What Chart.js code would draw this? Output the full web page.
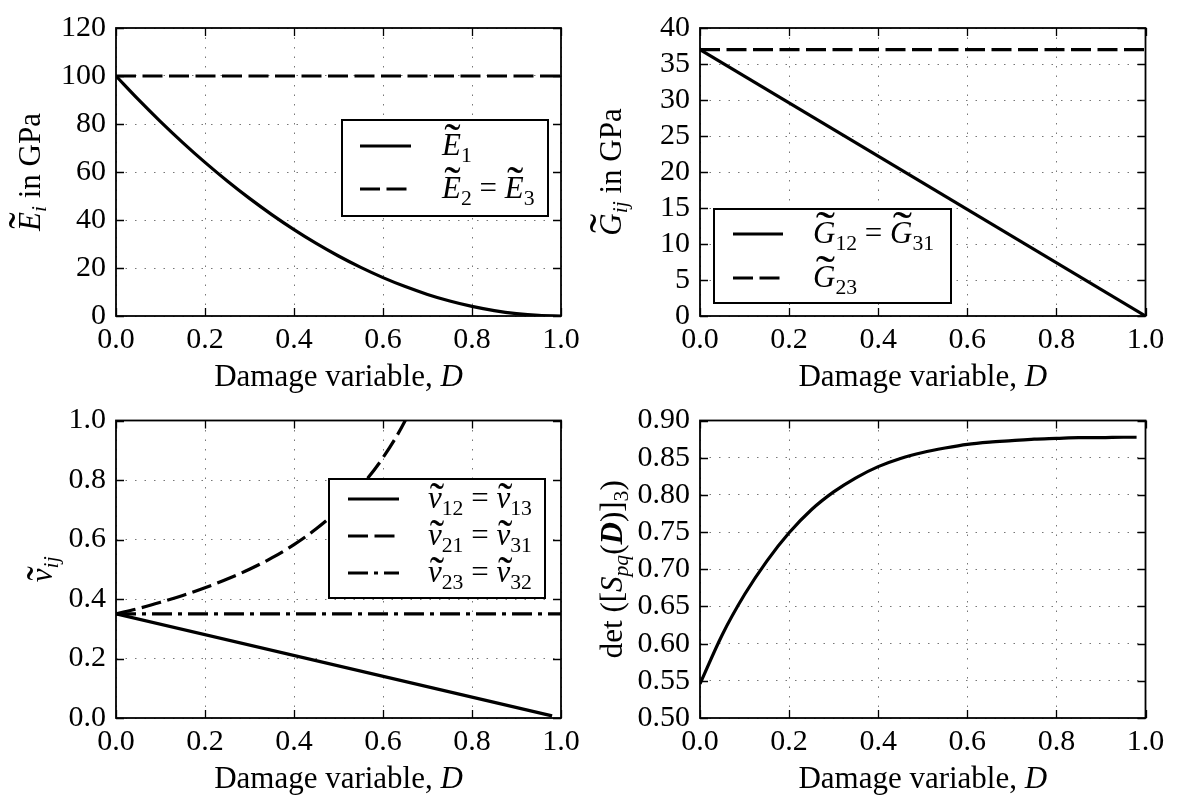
<!DOCTYPE html>
<html>
<head>
<meta charset="utf-8">
<title>Damage-dependent elastic constants</title>
<script src="https://cdn.jsdelivr.net/npm/chart.js@4.4.1/dist/chart.umd.min.js"></script>
<style>
  html, body { margin: 0; padding: 0; background: #fff; }
  #wrap { position: relative; width: 1179px; height: 799px; overflow: hidden; background: #fff; }
  #wrap canvas { position: absolute; left: 0; top: 0; }
</style>
</head>
<body>
<div id="wrap">
  <canvas id="cE" width="1179" height="799"></canvas>
  <canvas id="cG" width="1179" height="799"></canvas>
  <canvas id="cNu" width="1179" height="799"></canvas>
  <canvas id="cDet" width="1179" height="799"></canvas>
</div>
<script>
// ---- damage variable samples ----
const dEnds = [0, 1];
const dTop = [0, 0.05, 0.1, 0.15, 0.2, 0.25, 0.3, 0.35, 0.4, 0.45, 0.5,
              0.55, 0.6, 0.65, 0.7, 0.75, 0.8, 0.85, 0.9, 0.95, 1.0];

// Young's moduli in GPa
const modulusE1 = [100, 90.25, 81, 72.25, 64, 56.25, 49, 42.25, 36, 30.25, 25,
                   20.25, 16, 12.25, 9, 6.25, 4, 2.25, 1, 0.25, 0];
const modulusE23 = [100, 100];

// shear moduli in GPa
const shearG12 = [37, 0];
const shearG23 = [37, 37];

// Poisson's ratios
const dNu12 = [0, 0.98];
const poissonNu12 = [0.35, 0.007];
const dNu21 = [0, 0.05, 0.1, 0.15, 0.2, 0.25, 0.3, 0.35, 0.4, 0.45, 0.5, 0.55, 0.6, 0.65, 0.7];
const poissonNu21 = [0.35, 0.368, 0.389, 0.412, 0.438, 0.467, 0.5, 0.538, 0.583, 0.636, 0.7,
                     0.778, 0.875, 1.0, 1.167];
const poissonNu23 = [0.35, 0.35];

// determinant of the compliance matrix
const dDet = [0, 0.05, 0.1, 0.15, 0.2, 0.25, 0.3, 0.35, 0.4, 0.45, 0.5,
              0.55, 0.6, 0.65, 0.7, 0.75, 0.8, 0.85, 0.9, 0.95, 0.98];
const detS = [0.546, 0.612, 0.666, 0.711, 0.749, 0.780, 0.804, 0.823, 0.838, 0.849, 0.857,
              0.863, 0.868, 0.871, 0.873, 0.875, 0.876, 0.877, 0.877, 0.8775, 0.8775];

// ---- tick values and labels ----
const xTickValues = [0, 0.2, 0.4, 0.6, 0.8, 1.0];
const xTickLabels = ['0.0', '0.2', '0.4', '0.6', '0.8', '1.0'];
const eTickValues = [0, 20, 40, 60, 80, 100, 120];
const eTickLabels = ['0', '20', '40', '60', '80', '100', '120'];
const gTickValues = [0, 5, 10, 15, 20, 25, 30, 35, 40];
const gTickLabels = ['0', '5', '10', '15', '20', '25', '30', '35', '40'];
const nuTickValues = [0, 0.2, 0.4, 0.6, 0.8, 1.0];
const nuTickLabels = ['0.0', '0.2', '0.4', '0.6', '0.8', '1.0'];
const detTickValues = [0.5, 0.55, 0.6, 0.65, 0.7, 0.75, 0.8, 0.85, 0.9];
const detTickLabels = ['0.50', '0.55', '0.60', '0.65', '0.70', '0.75', '0.80', '0.85', '0.90'];

// ---- rich text pieces: it = italic, bf = bold, sub = subscript, tl = wide tilde ----
const xTitle = [{ t: 'Damage variable, ' }, { t: 'D', it: 1 }];
const yTitleE = [{ t: 'E', it: 1, tl: 1 }, { t: 'i', it: 1, sub: 1 }, { t: ' in GPa' }];
const yTitleG = [{ t: 'G', it: 1, tl: 1 }, { t: 'ij', it: 1, sub: 1 }, { t: ' in GPa' }];
const yTitleNu = [{ t: '\u03BD', it: 1, tl: 1 }, { t: 'ij', it: 1, sub: 1 }];
const yTitleDet = [{ t: 'det ' }, { t: '(' }, { t: '[' }, { t: 'S', it: 1 }, { t: 'pq', it: 1, sub: 1 },
                   { t: '(' }, { t: 'D', it: 1, bf: 1 }, { t: ')' }, { t: ']' }, { t: '3', sub: 1 }, { t: ')' }];

const legendE = [
  [{ t: 'E', it: 1, tl: 1 }, { t: '1', sub: 1 }],
  [{ t: 'E', it: 1, tl: 1 }, { t: '2', sub: 1 }, { t: ' = ' }, { t: 'E', it: 1, tl: 1 }, { t: '3', sub: 1 }]
];
const legendG = [
  [{ t: 'G', it: 1, tl: 1 }, { t: '12', sub: 1 }, { t: ' = ' }, { t: 'G', it: 1, tl: 1 }, { t: '31', sub: 1 }],
  [{ t: 'G', it: 1, tl: 1 }, { t: '23', sub: 1 }]
];
const legendNu = [
  [{ t: '\u03BD', it: 1, tl: 1 }, { t: '12', sub: 1 }, { t: ' = ' }, { t: '\u03BD', it: 1, tl: 1 }, { t: '13', sub: 1 }],
  [{ t: '\u03BD', it: 1, tl: 1 }, { t: '21', sub: 1 }, { t: ' = ' }, { t: '\u03BD', it: 1, tl: 1 }, { t: '31', sub: 1 }],
  [{ t: '\u03BD', it: 1, tl: 1 }, { t: '23', sub: 1 }, { t: ' = ' }, { t: '\u03BD', it: 1, tl: 1 }, { t: '32', sub: 1 }]
];

// ---- styling ----
const FAMILY = '"Liberation Serif", "Times New Roman", serif';
const TEXT_SIZE = 31;
const TICK_SIZE = 30;
const LINE_W = 3.2;
const DASHED = [20, 6.5];
const DASHDOT = [20, 6, 4, 6];
const PAGE_W = 1179, PAGE_H = 799;
const Y_AXIS_W = 70, X_AXIS_H = 40;

function fontOf(seg, size) {
  return (seg.it ? 'italic ' : '') + (seg.bf ? 'bold ' : '') + size + 'px ' + FAMILY;
}

function richWidth(ctx, segs, size) {
  let w = 0;
  for (const s of segs) {
    ctx.font = fontOf(s, s.sub ? size * 0.7 : size);
    w += ctx.measureText(s.t).width;
  }
  return w;
}

function drawTilde(ctx, seg, x, base, size, w) {
  const m = ctx.measureText(seg.t);
  const top = base - m.actualBoundingBoxAscent;
  const h = size * 0.19, gap = size * 0.1;
  const x0 = x + w * 0.12, x1 = x + Math.max(w * 1.04, size * 0.55);
  ctx.save();
  ctx.font = size + 'px ' + FAMILY;
  const a = ctx.measureText('\u02DC');
  const l = -a.actualBoundingBoxLeft, r = a.actualBoundingBoxRight;
  const t = -a.actualBoundingBoxAscent, b = a.actualBoundingBoxDescent;
  if (r - l > 0 && b - t > 0) {
    const sx = (x1 - x0) / (r - l), sy = h / (b - t);
    ctx.translate(x0 - l * sx, top - gap - h - t * sy);
    ctx.scale(sx, sy);
    ctx.fillText('\u02DC', 0, 0);
  }
  ctx.restore();
}

function drawRich(ctx, segs, x, base, size) {
  let cx = x;
  for (const s of segs) {
    const sz = s.sub ? size * 0.7 : size;
    const dy = s.sub ? size * 0.2 : 0;
    ctx.font = fontOf(s, sz);
    const w = ctx.measureText(s.t).width;
    ctx.fillText(s.t, cx, base + dy);
    if (s.tl) drawTilde(ctx, s, cx, base + dy, sz, w);
    cx += w;
  }
}

// frame, inward ticks, axis titles and legend drawn on top of the data
const decor = {
  id: 'decor',
  afterDatasetsDraw(chart, args, o) {
    const { ctx, chartArea: a } = chart;
    const x = chart.scales.x, y = chart.scales.y;
    ctx.save();
    ctx.setLineDash([]);
    ctx.strokeStyle = '#000';
    ctx.fillStyle = '#000';

    // ticks pointing into the plot on all four sides
    const TL = 8;
    ctx.lineWidth = 1.3;
    ctx.beginPath();
    for (const t of x.ticks) {
      const px = Math.round(x.getPixelForValue(t.value)) + 0.5;
      ctx.moveTo(px, a.bottom); ctx.lineTo(px, a.bottom - TL);
      ctx.moveTo(px, a.top); ctx.lineTo(px, a.top + TL);
    }
    for (const t of y.ticks) {
      const py = Math.round(y.getPixelForValue(t.value)) + 0.5;
      ctx.moveTo(a.left, py); ctx.lineTo(a.left + TL, py);
      ctx.moveTo(a.right, py); ctx.lineTo(a.right - TL, py);
    }
    ctx.stroke();

    // axes frame
    ctx.lineWidth = 1.8;
    ctx.strokeRect(a.left, a.top, a.right - a.left, a.bottom - a.top);

    ctx.textAlign = 'left';
    ctx.textBaseline = 'alphabetic';

    // x title
    const wx = richWidth(ctx, o.xTitle, TEXT_SIZE);
    drawRich(ctx, o.xTitle, (a.left + a.right) / 2 - wx / 2, a.bottom + 70, TEXT_SIZE);

    // y title, rotated
    ctx.save();
    ctx.translate(o.yTitleX, (a.top + a.bottom) / 2);
    ctx.rotate(-Math.PI / 2);
    const wy = richWidth(ctx, o.yTitle, TEXT_SIZE);
    drawRich(ctx, o.yTitle, -wy / 2, TEXT_SIZE * 0.33, TEXT_SIZE);
    ctx.restore();

    // legend
    const L = o.legend;
    if (L) {
      const [bl, bt, br, bb] = L.box;
      ctx.fillStyle = '#fff';
      ctx.fillRect(bl, bt, br - bl, bb - bt);
      ctx.lineWidth = 2;
      ctx.strokeRect(bl, bt, br - bl, bb - bt);
      ctx.fillStyle = '#000';
      chart.data.datasets.forEach((ds, i) => {
        const ry = L.rows[i];
        ctx.save();
        ctx.lineWidth = ds.borderWidth;
        ctx.setLineDash(ds.borderDash || []);
        ctx.lineCap = 'butt';
        ctx.beginPath();
        ctx.moveTo(L.sample[0], ry);
        ctx.lineTo(L.sample[1], ry);
        ctx.stroke();
        ctx.restore();
        drawRich(ctx, L.labels[i], L.textX, ry + TEXT_SIZE * 0.3, TEXT_SIZE);
      });
    }
    ctx.restore();
  }
};

function series(xs, ys, dash) {
  return {
    data: xs.map((d, i) => ({ x: d, y: ys[i] })),
    borderColor: '#000',
    borderWidth: LINE_W,
    borderDash: dash || [],
    borderCapStyle: 'butt',
    borderJoinStyle: 'round',
    pointRadius: 0,
    fill: false,
    cubicInterpolationMode: 'monotone'
  };
}

function fixedTicks(values, labels) {
  return {
    afterBuildTicks: s => { s.ticks = values.map(v => ({ value: v })); },
    callback: (v, i) => labels[i]
  };
}

function panel(id, area, yMin, yMax, yVals, yLabels, datasets, decorOpts) {
  const xt = fixedTicks(xTickValues, xTickLabels);
  const yt = fixedTicks(yVals, yLabels);
  return new Chart(document.getElementById(id), {
    type: 'line',
    data: { datasets },
    options: {
      responsive: false,
      devicePixelRatio: 1,
      animation: false,
      events: [],
      layout: {
        padding: {
          left: area.l - Y_AXIS_W,
          top: area.t,
          right: PAGE_W - area.r,
          bottom: PAGE_H - area.b - X_AXIS_H
        }
      },
      plugins: { legend: { display: false }, tooltip: { enabled: false }, decor: decorOpts },
      scales: {
        x: {
          type: 'linear', min: 0, max: 1,
          afterBuildTicks: xt.afterBuildTicks,
          afterFit: s => { s.height = X_AXIS_H; },
          ticks: { callback: xt.callback, autoSkip: false, maxRotation: 0, padding: 6,
                   color: '#000', font: { family: FAMILY, size: TICK_SIZE } },
          grid: { color: '#777', lineWidth: 1, drawTicks: false },
          border: { display: false, dash: [1.5, 8] }
        },
        y: {
          type: 'linear', min: yMin, max: yMax,
          afterBuildTicks: yt.afterBuildTicks,
          afterFit: s => { s.width = Y_AXIS_W; },
          ticks: { callback: yt.callback, autoSkip: false, padding: 10,
                   color: '#000', font: { family: FAMILY, size: TICK_SIZE } },
          grid: { color: '#777', lineWidth: 1, drawTicks: false },
          border: { display: false, dash: [1.5, 8] }
        }
      }
    },
    plugins: [decor]
  });
}

// top left: Young's moduli
panel('cE', { l: 116, t: 18.5, r: 561, b: 316 }, 0, 120, eTickValues, eTickLabels,
  [series(dTop, modulusE1), series(dEnds, modulusE23, DASHED)],
  { xTitle, yTitle: yTitleE, yTitleX: 30,
    legend: { box: [342, 120, 548, 216], rows: [146, 189], sample: [360, 411], textX: 442, labels: legendE } });

// top right: shear moduli
panel('cG', { l: 700, t: 18.5, r: 1145.5, b: 316 }, 0, 40, gTickValues, gTickLabels,
  [series(dEnds, shearG12), series(dEnds, shearG23, DASHED)],
  { xTitle, yTitle: yTitleG, yTitleX: 611,
    legend: { box: [714, 209, 951, 303], rows: [234, 278], sample: [733, 783], textX: 813, labels: legendG } });

// bottom left: Poisson's ratios
panel('cNu', { l: 116, t: 420.5, r: 561, b: 718 }, 0, 1, nuTickValues, nuTickLabels,
  [series(dNu12, poissonNu12), series(dNu21, poissonNu21, DASHED), series(dEnds, poissonNu23, DASHDOT)],
  { xTitle, yTitle: yTitleNu, yTitleX: 42,
    legend: { box: [329, 479, 545, 598], rows: [499, 536, 573], sample: [348, 399], textX: 428, labels: legendNu } });

// bottom right: determinant of the compliance matrix
panel('cDet', { l: 700, t: 420.5, r: 1145.5, b: 718 }, 0.5, 0.9, detTickValues, detTickLabels,
  [series(dDet, detS)],
  { xTitle, yTitle: yTitleDet, yTitleX: 612 });
</script>
</body>
</html>
